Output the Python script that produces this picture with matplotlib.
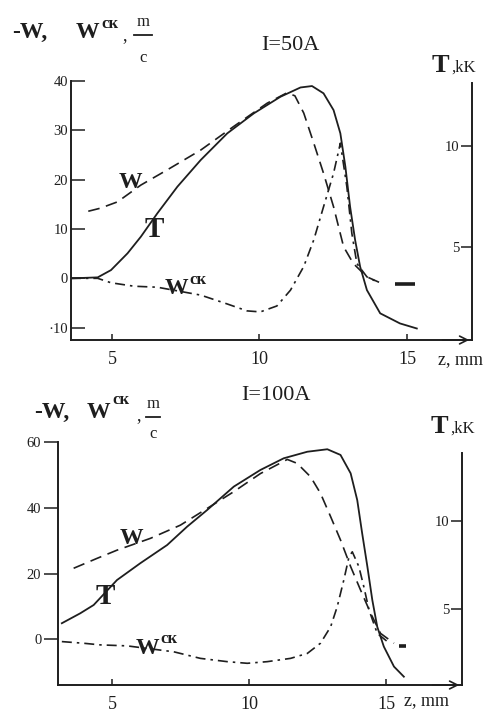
import matplotlib
matplotlib.use('Agg')
import matplotlib.pyplot as plt
from matplotlib.lines import Line2D

plt.rcParams['font.family'] = ['Liberation Serif', 'DejaVu Serif']

# ---- I = 50 A ----
z_T50 = [3.61, 4.52, 4.97, 5.53, 5.98, 6.54, 7.22, 8.01, 8.91, 9.81, 10.71, 11.39, 11.78,
         12.17, 12.51, 12.74, 12.91, 13.07, 13.24, 13.41, 13.64, 14.09, 14.76, 15.33]
T50 = [3.45, 3.50, 3.86, 4.69, 5.51, 6.67, 7.99, 9.31, 10.63, 11.62, 12.44, 12.90, 12.97,
       12.61, 11.78, 10.63, 8.98, 7.0, 5.35, 4.03, 2.87, 1.72, 1.22, 0.97]

z_W50 = [4.2, 4.6, 5.19, 5.98, 6.88, 8.01, 9.13, 10.26, 10.93, 11.2, 11.5, 11.84, 12.17,
         12.51, 12.85, 13.18, 13.64, 14.09]
W50 = [13.6, 14.2, 15.5, 18.9, 22.0, 26.0, 30.8, 35.5, 37.6, 37.0, 33.5, 27.4, 21.3,
       14.5, 6.4, 3.0, 0.3, -0.9]
z_W50_tail = [14.6, 15.27]
W50_tail = [-1.2, -1.2]

z_Wck50 = [3.61, 4.52, 4.97, 5.75, 6.54, 8.01, 8.91, 9.58, 10.03, 10.59, 11.05, 11.5, 11.84,
           12.17, 12.51, 12.74, 12.96, 13.13, 13.3, 13.64, 13.98]
Wck50 = [0.0, 0.0, -0.9, -1.6, -1.8, -3.4, -5.2, -6.6, -6.8, -5.6, -2.4, 2.4, 7.8,
         14.5, 21.3, 27.4, 18.6, 9.1, 3.0, 0.3, -0.7]

# ---- I = 100 A ----
z_T100 = [3.17, 3.84, 4.33, 5.18, 6.03, 7.01, 7.74, 8.47, 9.44, 10.41, 11.26, 12.12, 12.85,
          13.33, 13.70, 13.94, 14.12, 14.31, 14.49, 14.67, 14.91, 15.28, 15.64]
T100 = [4.2, 4.76, 5.23, 6.64, 7.59, 8.62, 9.66, 10.6, 11.92, 12.86, 13.52, 13.89, 14.03,
        13.71, 12.67, 11.16, 9.28, 7.4, 5.51, 4.0, 2.88, 1.75, 1.18]

z_W100 = [3.6, 4.45, 5.18, 6.4, 7.49, 8.47, 9.44, 10.41, 11.39, 11.75, 12.24, 12.6, 12.97,
          13.33, 13.7, 14.06, 14.43, 14.79, 15.28]
W100 = [21.6, 24.6, 27.1, 30.7, 34.7, 39.8, 44.9, 50.4, 54.7, 53.5, 49.4, 44.4, 37.3,
        30.2, 22.1, 15.0, 7.9, 1.8, -1.2]
z_W100_tail = [15.45, 15.7]
W100_tail = [-2.0, -2.0]

z_Wck100 = [3.17, 3.96, 4.57, 5.55, 7.25, 8.22, 9.2, 9.93, 10.66, 11.51, 12.12, 12.6, 12.97,
            13.21, 13.45, 13.64, 13.76, 14.0, 14.18, 14.37, 14.67, 15.04]
Wck100 = [-0.7, -1.2, -1.7, -2.0, -3.8, -5.8, -6.8, -7.3, -6.8, -5.8, -4.3, -1.2, 3.8,
          9.9, 18.0, 25.1, 26.6, 22.1, 16.0, 8.9, 1.8, -0.7]

W_px, H_px = 491, 713
ink = '#1e1e1e'


def fx(x):
    return x / W_px


def fy(y):
    return 1 - y / H_px


fig = plt.figure(figsize=(W_px / 100, H_px / 100), dpi=100)


def panel(rect, xlim, ylim, tlim, tspine_top, yticks, ydir, zT, T, zW, W, zWt, Wt, zC, C):
    ax = fig.add_axes(rect)
    ax.set_xlim(*xlim)
    ax.set_ylim(*ylim)
    ax.plot(zW, W, color=ink, lw=1.2, dashes=(7, 4))
    ax.plot(zWt, Wt, color=ink, lw=2.6, solid_capstyle='butt')
    ax.plot(zC, C, color=ink, lw=1.2, dashes=(6, 3, 1.5, 3))
    ax.set_yticks(yticks)
    ax.set_yticklabels(['·10' if v == -10 else str(v) for v in yticks])
    ax.set_xticks([5, 10, 15])
    ax.tick_params(axis='y', direction=ydir, length=10, width=1.1, labelsize=10.5, pad=2,
                   colors=ink)
    ax.tick_params(axis='x', direction='in', length=4, width=1.1, labelsize=13, pad=8,
                   colors=ink)
    for s in ['top', 'right']:
        ax.spines[s].set_visible(False)
    for s in ['left', 'bottom']:
        ax.spines[s].set_linewidth(1.4)
        ax.spines[s].set_color(ink)
    ax.annotate('', xy=(1.0, 0.0), xytext=(0.92, 0.0), xycoords='axes fraction',
                arrowprops=dict(arrowstyle='->', color=ink, lw=1.2, mutation_scale=14))

    ax2 = ax.twinx()
    ax2.set_ylim(*tlim)
    ax2.plot(zT, T, color=ink, lw=1.3)
    ax2.set_yticks([5, 10])
    for s in ['top', 'left', 'bottom']:
        ax2.spines[s].set_visible(False)
    ax2.spines['right'].set_linewidth(1.4)
    ax2.spines['right'].set_color(ink)
    ax2.spines['right'].set_bounds(tlim[0], tspine_top)
    ax2.tick_params(axis='y', direction='in', length=8, width=1.1, labelsize=10.5, pad=-9,
                    colors=ink)
    for lab in ax2.get_yticklabels():
        lab.set_horizontalalignment('right')
    return ax, ax2


ax_a, _ = panel([fx(71), fy(340), fx(472) - fx(71), fy(81) - fy(340)],
                (3.615, 17.2), (-12.5, 40.0), (0.40, 13.22), 13.1, [-10, 0, 10, 20, 30, 40],
                'in', z_T50, T50, z_W50, W50, z_W50_tail, W50_tail, z_Wck50, Wck50)
ax_b, _ = panel([fx(58), fy(685), fx(462) - fx(58), fy(442) - fy(685)],
                (3.03, 17.76), (-13.9, 60.0), (0.71, 14.44), 13.8, [0, 20, 40, 60],
                'out', z_T100, T100, z_W100, W100, z_W100_tail, W100_tail, z_Wck100, Wck100)


def ylabel_block(x_mw, x_w, x_sup, x_com, x_frac, base, sup_base, frac_line, c_base, half):
    fig.text(fx(x_mw), fy(base), '-W,', fontsize=17, fontweight='bold', color=ink)
    fig.text(fx(x_w), fy(base), 'W', fontsize=17, fontweight='bold', color=ink)
    fig.text(fx(x_sup), fy(sup_base), 'ск', fontsize=12, fontweight='bold', color=ink)
    fig.text(fx(x_com), fy(base + 2), ',', fontsize=13, color=ink)
    fig.text(fx(x_frac), fy(frac_line - 9), 'm', fontsize=12, ha='center', color=ink)
    fig.add_artist(Line2D([fx(x_frac - half), fx(x_frac + half)],
                          [fy(frac_line), fy(frac_line)], color=ink, lw=1.3))
    fig.text(fx(x_frac), fy(c_base), 'c', fontsize=12, ha='center', color=ink)


def curve_labels(pw, pt, pc):
    fig.text(fx(pw[0]), fy(pw[1]), 'W', fontsize=17, fontweight='bold',
             ha='center', va='center', color=ink)
    fig.text(fx(pt[0]), fy(pt[1]), 'T', fontsize=21, fontweight='bold',
             ha='center', va='center', color=ink)
    fig.text(fx(pc[0]), fy(pc[1]), 'W', fontsize=17, fontweight='bold',
             ha='center', va='center', color=ink)
    fig.text(fx(pc[0] + 13), fy(pc[1] - 9), 'ск', fontsize=12, fontweight='bold',
             ha='left', va='center', color=ink)


# panel 1 texts
ylabel_block(12, 76, 101, 122, 143, 38, 28, 35, 62, 9)
fig.text(fx(290), fy(46), 'I=50A', fontsize=16, ha='center', va='center', color=ink)
fig.text(fx(432), fy(72), 'T', fontsize=19, fontweight='bold', color=ink)
fig.text(fx(451), fy(72), ',kK', fontsize=12, color=ink)
fig.text(fx(460), fy(360), 'z, mm', fontsize=13, ha='center', va='center', color=ink)
curve_labels((130, 183), (154, 230), (176, 289))

# panel 2 texts
ylabel_block(34, 87, 112, 136, 153, 418, 404, 417, 438, 7)
fig.text(fx(276), fy(396), 'I=100A', fontsize=16, ha='center', va='center', color=ink)
fig.text(fx(431), fy(433), 'T', fontsize=19, fontweight='bold', color=ink)
fig.text(fx(450), fy(433), ',kK', fontsize=12, color=ink)
fig.text(fx(427), fy(701), 'z, mm', fontsize=13, ha='center', va='center', color=ink)
curve_labels((131, 538), (105, 597), (147, 648))

fig.savefig('out.png', dpi=100)
